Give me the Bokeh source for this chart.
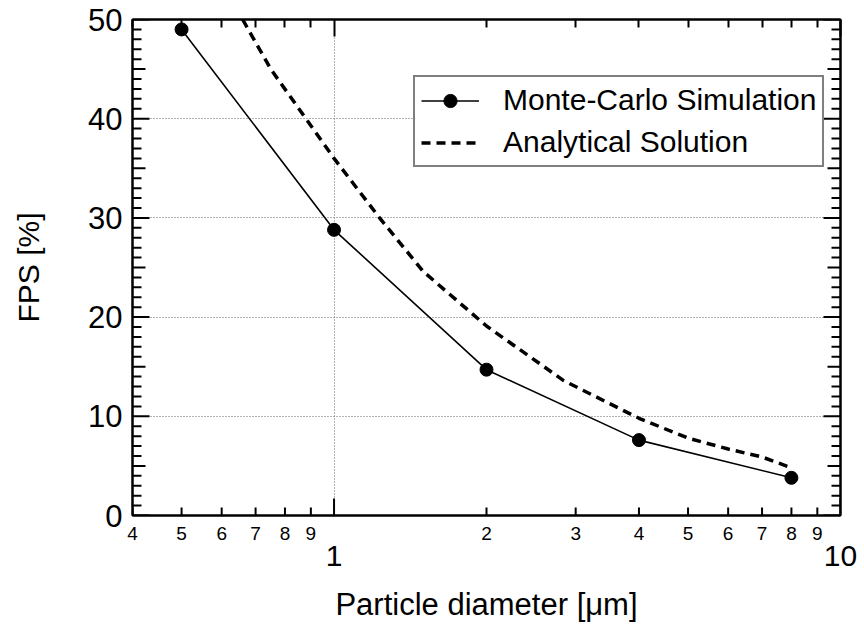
import math
from bokeh.plotting import figure
from bokeh.models import (LogAxis, LinearAxis, FixedTicker, BoxAnnotation,
                          CustomJSTickFormatter, Legend, LegendItem)
from bokeh.embed import file_html
from bokeh.resources import INLINE

# ---- data ----
mc_x = [0.5, 1.0, 2.0, 4.0, 8.0]
mc_y = [49.0, 28.8, 14.7, 7.6, 3.8]

ana_x = [0.66, 0.75, 0.88, 1.0, 1.23, 1.5, 2.0, 2.84, 4.0, 5.0, 6.0, 7.0, 8.0]
ana_y = [50.0, 45.0, 40.0, 36.0, 30.0, 24.6, 19.1, 13.6, 9.8, 7.8, 6.7, 5.9, 4.8]

x_major = [1, 10]
x_minor = [0.4, 0.5, 0.6, 0.7, 0.8, 0.9, 2, 3, 4, 5, 6, 7, 8, 9]
y_major = [0, 10, 20, 30, 40, 50]
y_mid = [5, 15, 25, 35, 45]
y_minor = [v for v in range(0, 51) if v % 5 != 0]

X_LO, X_HI = 0.4, 10
Y_LO, Y_HI = 0, 50

FONT = "Liberation Sans"

W, H = 864, 624
B_LEFT, B_RIGHT, B_TOP, B_BOTTOM = 132, 24, 19, 109
FRAME_W = W - B_LEFT - B_RIGHT
FRAME_H = H - B_TOP - B_BOTTOM
PX_PER_DEC = FRAME_W / math.log10(X_HI / X_LO)
PX_PER_Y = FRAME_H / (Y_HI - Y_LO)

p = figure(width=W, height=H, x_axis_type="log", x_range=(X_LO, X_HI), y_range=(Y_LO, Y_HI),
           output_backend="svg", toolbar_location=None,
           x_axis_location="below", y_axis_location="left",
           min_border_left=B_LEFT, min_border_right=B_RIGHT,
           min_border_top=B_TOP, min_border_bottom=B_BOTTOM)
p.background_fill_color = "white"
p.border_fill_color = "white"
p.outline_line_color = "black"
p.outline_line_width = 2


def style_axis_line(ax):
    ax.axis_line_width = 2
    ax.axis_line_color = "black"
    ax.major_tick_in = 0
    ax.major_tick_out = 0
    ax.minor_tick_in = 0
    ax.minor_tick_out = 0
    ax.major_tick_line_color = None
    ax.minor_tick_line_color = None


def hide_labels(ax):
    ax.formatter = CustomJSTickFormatter(code="return ' ';")
    ax.major_label_text_font_size = "2px"
    ax.major_label_standoff = 0


# ---- y axes ----
yax = p.yaxis[0]
yax.ticker = FixedTicker(ticks=y_major)
yax.axis_label = "FPS [%]"
style_axis_line(yax)
yax.major_label_text_font = FONT
yax.major_label_text_font_size = "31px"
yax.major_label_text_color = "black"
yax.major_label_standoff = 10
yax.axis_label_text_font = FONT
yax.axis_label_text_font_size = "30px"
yax.axis_label_text_font_style = "normal"
yax.axis_label_text_color = "black"
yax.axis_label_standoff = 40

yax_r = LinearAxis(ticker=FixedTicker(ticks=y_major))
style_axis_line(yax_r)
hide_labels(yax_r)
p.add_layout(yax_r, "right")

# ---- x axes ----
xax = p.xaxis[0]
xax.ticker = FixedTicker(ticks=x_major, minor_ticks=x_minor)
style_axis_line(xax)
hide_labels(xax)

xax_top = LogAxis(ticker=FixedTicker(ticks=x_major, minor_ticks=x_minor))
xax_top.axis_line_width = 2
xax_top.major_tick_in = 17
xax_top.major_tick_out = 0
xax_top.minor_tick_in = 8
xax_top.minor_tick_out = 0
xax_top.major_tick_line_width = 2
xax_top.minor_tick_line_width = 2
hide_labels(xax_top)
p.add_layout(xax_top, "above")

minor_lab = LogAxis(ticker=FixedTicker(ticks=x_minor),
                    formatter=CustomJSTickFormatter(code="return tick < 1 ? String(Math.round(tick*10)) : String(Math.round(tick));"))
minor_lab.axis_line_color = None
minor_lab.major_tick_line_color = None
minor_lab.minor_tick_line_color = None
minor_lab.major_tick_in = 0
minor_lab.major_tick_out = 0
minor_lab.major_label_text_font = FONT
minor_lab.major_label_text_font_size = "19px"
minor_lab.major_label_text_color = "black"
minor_lab.major_label_standoff = 6
p.add_layout(minor_lab, "below")

major_lab = LogAxis(ticker=FixedTicker(ticks=x_major),
                    formatter=CustomJSTickFormatter(code="return String(Math.round(tick));"),
                    axis_label="Particle diameter [\u03bcm]")
major_lab.axis_line_color = None
major_lab.major_tick_line_color = None
major_lab.minor_tick_line_color = None
major_lab.major_tick_in = 0
major_lab.major_tick_out = 0
major_lab.major_label_text_font = FONT
major_lab.major_label_text_font_size = "30px"
major_lab.major_label_text_color = "black"
major_lab.major_label_standoff = 3
major_lab.axis_label_text_font = FONT
major_lab.axis_label_text_font_size = "31px"
major_lab.axis_label_text_font_style = "normal"
major_lab.axis_label_text_color = "black"
major_lab.axis_label_standoff = 18
p.add_layout(major_lab, "below")

# ---- grids ----
p.xgrid.ticker = FixedTicker(ticks=[1])
p.ygrid.ticker = FixedTicker(ticks=[10, 20, 30, 40])
for g in (p.xgrid[0], p.ygrid[0]):
    g.grid_line_color = "#666666"
    g.grid_line_width = 1
    g.grid_line_dash = "1 2"

# ---- inward ticks on left, right and bottom (thin boxes placed from the tick lists) ----
half_y = 1.0 / PX_PER_Y
half_x = 10 ** (1.0 / PX_PER_DEC)
for ys, ln in ((y_major, 17), (y_mid, 13), (y_minor, 9)):
    fx = 10 ** (ln / PX_PER_DEC)
    for yv in ys:
        p.add_layout(BoxAnnotation(left=X_LO, right=X_LO * fx, bottom=yv - half_y, top=yv + half_y,
                                   fill_color="black", fill_alpha=1, line_color=None))
        p.add_layout(BoxAnnotation(left=X_HI / fx, right=X_HI, bottom=yv - half_y, top=yv + half_y,
                                   fill_color="black", fill_alpha=1, line_color=None))
for xs, ln in ((x_major, 17), (x_minor, 8)):
    for xv in xs:
        p.add_layout(BoxAnnotation(left=xv / half_x, right=xv * half_x, bottom=Y_LO,
                                   top=Y_LO + ln / PX_PER_Y,
                                   fill_color="black", fill_alpha=1, line_color=None))

# ---- data glyphs ----
l1 = p.line(mc_x, mc_y, line_color="black", line_width=1.6)
c1 = p.scatter(mc_x, mc_y, size=13, marker="circle", fill_color="black", line_color="black")
l2 = p.line(ana_x, ana_y, line_color="black", line_width=3.5, line_dash="9 6")

legend = Legend(items=[LegendItem(label="Monte-Carlo Simulation", renderers=[l1, c1]),
                       LegendItem(label="Analytical Solution", renderers=[l2])],
                location=(281, 348))
legend.label_text_font = FONT
legend.label_text_font_size = "30px"
legend.label_text_color = "black"
legend.border_line_color = "black"
legend.border_line_width = 2
legend.background_fill_alpha = 1
legend.glyph_width = 58
legend.glyph_height = 33
legend.label_height = 33
legend.spacing = 8
legend.padding = 6
legend.label_standoff = 24
legend.margin = 0
p.add_layout(legend, "center")

open("out.html", "w").write(file_html(p, INLINE))
